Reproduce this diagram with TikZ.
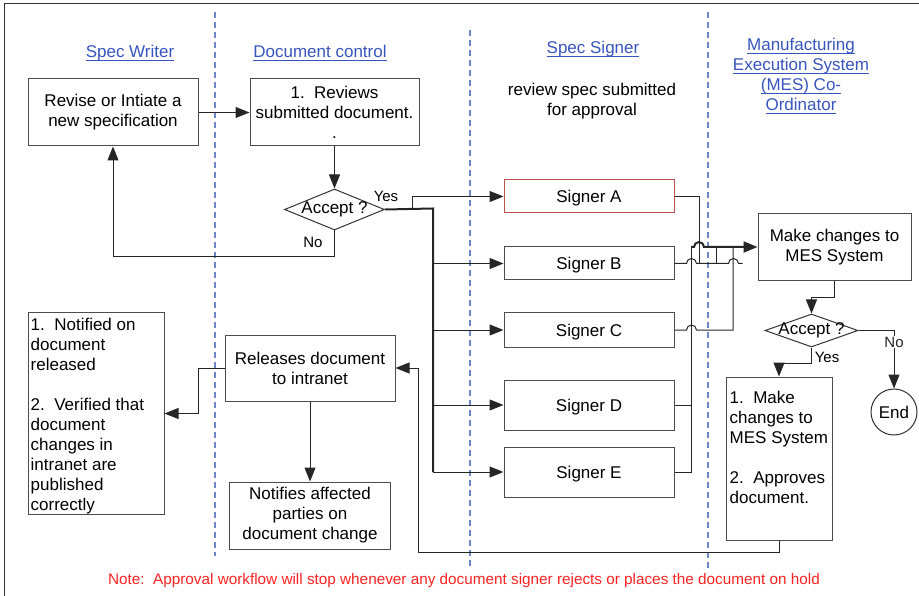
\documentclass[tikz,border=0pt]{standalone}
\usepackage{fontspec}
\setmainfont{Liberation Sans}
\usepackage{amsmath}
\usetikzlibrary{positioning, arrows.meta, shapes.geometric}
\definecolor{azulcarril}{RGB}{110,135,200}
\definecolor{azultitulo}{RGB}{55,85,190}
\definecolor{rojonota}{RGB}{250,35,35}
\definecolor{rojofirma}{RGB}{192,80,77}
\tikzset{caja/.style={draw=black!70, line width=1pt, inner sep=0pt, align=center}}
\tikzset{firma/.style={caja, minimum width=170pt, text depth=0pt}}
\tikzset{rombo/.style={diamond, draw=black!80, line width=1pt, inner sep=0pt}}
\tikzset{flecha/.style={line width=1pt, black!85, -{Triangle[length=14pt,width=11pt]}}}
\tikzset{linea/.style={line width=1pt, black!85}}
\tikzset{gruesa/.style={line width=2pt}}
\tikzset{carril/.style={azulcarril, line width=1.2pt, dash pattern=on 6pt off 4pt}}
\tikzset{titulo/.style={text=azultitulo, align=center}}
\tikzset{etiq/.style={font=\fontsize{15}{18}\selectfont, inner sep=1pt}}
\newcommand{\subrayar}[1]{\underline{\smash[b]{#1}}}

\begin{document}
\begin{tikzpicture}[
                x = 1pt, y = -1pt,
                every node/.style={font=\fontsize{17}{20}\selectfont}
            ]
                \useasboundingbox (0,0) rectangle (919,596);
                % marco y carriles
                \draw[line width=1pt, black!80] (4,596) -- (4,4) -- (919,4);
                \draw[carril] (215,12) -- (215,556);
                \draw[carril] (470,30) -- (470,567);
                \draw[carril] (708,12) -- (708,570);

                % titulos
                \node[titulo, anchor=base] (tw) at (130,58) {\subrayar{Spec Writer}};
                \node[titulo, anchor=base] (tdc) at (320,58) {\subrayar{Document control}};
                \node[titulo, anchor=base] (tss) at (593,54) {\subrayar{Spec Signer}};
                \node[titulo] (tmes) at (801,76) {\subrayar{Manufacturing}\\\subrayar{Execution System}\\\subrayar{(MES) Co-}\\\subrayar{Ordinator}};
                \node[align=center] (rss) at (592,101) {review spec submitted\\for approval};

                % cajas
                \node[caja, minimum width=170pt, minimum height=67pt] (rev) at (113,112.5) {Revise or Intiate a\\new specification};
                \node[caja, minimum width=169pt, minimum height=67pt, right=51pt of rev] (doc) {1.\ \ Reviews\\submitted document.\\.};
                \node[rombo, minimum width=100pt, minimum height=41pt, below=42pt of doc, label=center:{Accept ?}] (acc1) {};

                \node[firma, draw=rojofirma, minimum height=33pt] (sA) at (589,196.5) {Signer A};
                \node[firma, minimum height=33pt] (sB) at (589,263.5) {Signer B};
                \node[firma, minimum height=34pt] (sC) at (589,330) {Signer C};
                \node[firma, minimum height=50pt] (sD) at (589,405) {Signer D};
                \node[firma, minimum height=50pt] (sE) at (589,472) {Signer E};

                \node[caja, minimum width=153pt, minimum height=67pt] (mes) at (834.5,247) {Make changes to\\MES System};
                \node[rombo, minimum width=93pt, minimum height=33pt, label=center:{Accept ?}] (acc2) at (811.5,330.5) {};
                \node[draw=black!80, line width=1pt, circle, minimum size=46pt, inner sep=0pt] (endn) at (894,412) {End};
                \node[caja, minimum width=106pt, minimum height=163pt] (mes2) at (779,458.5) {};
                \node[anchor=north west, align=left, inner xsep=4pt, inner ysep=14pt] (tmes2) at (mes2.north west) {1.\ \ Make\\changes to\\MES System\\[20pt]2.\ \ Approves\\document.};

                \node[caja, minimum width=170pt, minimum height=66pt] (rel) at (310,368) {Releases document\\to intranet};
                \node[caja, minimum width=161pt, minimum height=67pt, below=80pt of rel] (avisa) {Notifies affected\\parties on\\document change};
                \node[caja, minimum width=136pt, minimum height=201pt] (notif) at (96,413.5) {};
                \node[anchor=north west, align=left, inner xsep=3pt, inner ysep=5pt] (tnotif) at (notif.north west) {1.\ \ Notified on\\document\\released\\[20pt]2.\ \ Verified that\\document\\changes in\\intranet are\\published\\correctly};

                % etiquetas
                \node[etiq] (si1) at (386,196) {Yes};
                \node[etiq] (no1) at (313,242) {No};
                \node[etiq] (si2) at (827,357) {Yes};

                % conectores
                \draw[flecha] (rev) -- (doc);
                \draw[flecha] (doc) -- (acc1);
                \draw[flecha] (acc1.south) -- ++(0,26) -| (rev.south);

                \coordinate (bus) at (433,208.5);
                \draw[linea, gruesa] (acc1.east) -- (bus) -- (bus |- sE.west);
                \draw[flecha] (acc1.east) -- ++(27,0) |- (sA.west);
                \foreach \s in {sB,sC,sD,sE}
                    \draw[flecha] (bus |- \s.west) -- (\s.west);

                \coordinate (entra) at (691,247);
                \coordinate (jA) at (699,263.5);
                \coordinate (jB) at (716,263.5);
                \coordinate (jC) at (733,247);
                \draw[flecha, gruesa] (entra) -- ++(3,0) arc[start angle=180, end angle=0, radius=5pt] -- (mes.west);
                \draw[linea] (sE.east) -| (entra);
                \draw[linea] (sD.east) -- (entra |- sD.east);
                \draw[linea] (sA.east) -| (jA);
                \draw[linea] (sB.east) -- ++(12,0) arc[start angle=180, end angle=0, radius=5pt] -- ++(32,0) arc[start angle=180, end angle=0, radius=5pt] -- ++(4,0);
                \draw[linea] (jB) -- (jB |- entra);
                \draw[linea] (sC.east) -- ++(12,0) arc[start angle=180, end angle=0, radius=5pt] -| (jC);

                \draw[flecha] (mes.south) -- ++(0,17) -| (acc2.north);
                \draw[flecha] (acc2.east) -| node[etiq, fill=white, pos=0.6] (no2) {No} (endn.north);
                \draw[flecha] (acc2.south) -- ++(0,16) -| (mes2.north);
                \draw[flecha] (mes2.south) -- ++(0,12) -| ([xshift=23pt]rel.east) -- (rel.east);
                \draw[flecha] (rel.west) -- ++(-26,0) |- (notif.east);
                \draw[flecha] (rel) -- (avisa);

                % nota
                \node[text=rojonota, font=\fontsize{15.3}{18}\selectfont, anchor=base] (nota) at (464,584) {Note:\ \ Approval workflow will stop whenever any document signer rejects or places the document on hold};
            \end{tikzpicture}
\end{document}
